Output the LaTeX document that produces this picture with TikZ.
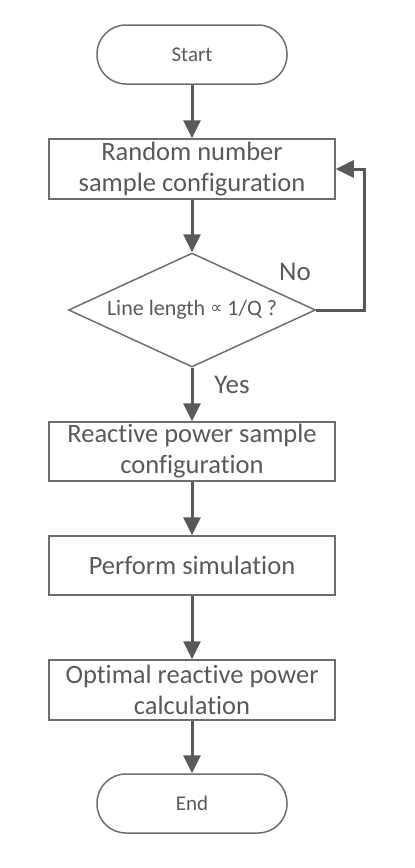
\documentclass[tikz,border=0pt]{standalone}
\usepackage{fontspec}
\setmainfont[Ligatures={NoCommon}]{Carlito}
\newfontfamily\symfont{DejaVu Sans}
\usepackage{xcolor}
\usetikzlibrary{arrows.meta,shapes.geometric}
\definecolor{ink}{HTML}{595959}
\definecolor{edge}{HTML}{6E6E6E}
\tikzset{
  term/.style={draw=edge, line width=1.5pt, rounded corners=29pt, minimum width=190pt, minimum height=59pt, text=ink, font=\fontsize{21}{25}\selectfont},
  proc/.style={draw=edge, line width=1.5pt, minimum width=286pt, minimum height=60pt, text=ink, align=center, inner sep=0pt, font=\fontsize{26.5}{31}\selectfont},
  decide/.style={draw=edge, line width=1.5pt, diamond, aspect=2.17, minimum width=247pt, minimum height=114pt, inner sep=0pt, text=ink, font=\fontsize{22}{26}\selectfont},
  flow/.style={draw=ink, line width=3pt, -{Triangle[length=18pt,width=17pt]}},
  lbl/.style={text=ink, font=\fontsize{27}{32}\selectfont}
}
\begin{document}
\begin{tikzpicture}[x=1pt,y=-1pt]
  \useasboundingbox (0,0) rectangle (415,868);

  \node[term] (start) at (192,54.5) {Start};
  \node[proc] (rand) at (192,169) {Random number\\sample configuration};
  \node[decide] (check) at (192,310) {Line length {\symfont\fontsize{17}{19}\selectfont\raisebox{2pt}{∝}} 1/Q ?};
  \node[proc, minimum height=59pt] (react) at (192,451.5) {Reactive power sample\\configuration};
  \node[proc, minimum height=59pt] (sim) at (192,565.5) {Perform simulation};
  \node[proc] (opt) at (192,690) {Optimal reactive power\\calculation};
  \node[term] (stop) at (192,803.5) {End};

  \draw[flow] (start) -- (rand);
  \draw[flow] (rand) -- (check);
  \draw[flow] (check) -- (react);
  \draw[flow] (react) -- (sim);
  \draw[flow] (sim) -- (opt);
  \draw[flow] (opt) -- (stop);
  \draw[flow] (check.east) -- ++(48,0) |- (rand.east);

  \node[lbl] (no) at (295,272) {No};
  \node[lbl] (yes) at (232,385) {Yes};
\end{tikzpicture}
\end{document}
